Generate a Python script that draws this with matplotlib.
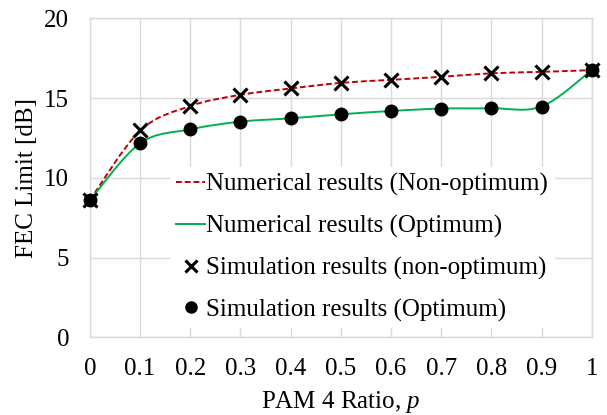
import matplotlib
matplotlib.use("Agg")
import matplotlib.pyplot as plt
from matplotlib.path import Path
from matplotlib.patches import PathPatch
from matplotlib.lines import Line2D

plt.rcParams['font.family'] = ['Liberation Serif', 'DejaVu Serif']
plt.rcParams['mathtext.fontset'] = 'custom'
plt.rcParams['mathtext.it'] = 'Liberation Serif:italic'
plt.rcParams['mathtext.rm'] = 'Liberation Serif'

# ---- data ----
p_ratio = [0, 0.1, 0.2, 0.3, 0.4, 0.5, 0.6, 0.7, 0.8, 0.9, 1.0]
x_ticks = [0, 0.1, 0.2, 0.3, 0.4, 0.5, 0.6, 0.7, 0.8, 0.9, 1]
x_tick_labels = ['0', '0.1', '0.2', '0.3', '0.4', '0.5', '0.6', '0.7', '0.8', '0.9', '1']
y_ticks = [0, 5, 10, 15, 20]

num_non_opt = [8.6, 12.95, 14.5, 15.2, 15.6, 15.95, 16.14, 16.33, 16.55, 16.64, 16.75]
num_opt = [8.6, 12.16, 13.04, 13.52, 13.73, 13.98, 14.19, 14.34, 14.36, 14.47, 16.75]
sim_non_opt = [8.6, 13.0, 14.5, 15.2, 15.6, 15.97, 16.14, 16.33, 16.56, 16.64, 16.75]
sim_opt = [8.6, 12.16, 13.04, 13.52, 13.73, 13.98, 14.19, 14.34, 14.36, 14.47, 16.75]

labels = ['Numerical results (Non-optimum)', 'Numerical results (Optimum)',
          'Simulation results (non-optimum)', 'Simulation results (Optimum)']

RED = '#C00000'
GREEN = '#00B050'
GRID = '#D9D9D9'
FS = 18
DASH = (0, (3, 1.5))


def smooth_path(xs, ys):
    """Excel-like smoothed line: cubic Bezier segments through the data points."""
    pts = list(zip(xs, ys))
    n = len(pts)
    verts = [pts[0]]
    codes = [Path.MOVETO]
    for i in range(n - 1):
        p0 = pts[i - 1] if i > 0 else pts[i]
        p1 = pts[i]
        p2 = pts[i + 1]
        p3 = pts[i + 2] if i + 2 < n else pts[i + 1]
        c1 = (p1[0] + (p2[0] - p0[0]) / 6.0, p1[1] + (p2[1] - p0[1]) / 6.0)
        c2 = (p2[0] - (p3[0] - p1[0]) / 6.0, p2[1] - (p3[1] - p1[1]) / 6.0)
        verts += [c1, c2, p2]
        codes += [Path.CURVE4] * 3
    return Path(verts, codes)


fig = plt.figure(figsize=(6.07, 4.15), dpi=100)
ax = fig.add_axes([0.148, 0.187, 0.827, 0.769])

ax.set_xlim(0, 1)
ax.set_ylim(0, 20)
ax.set_xticks(x_ticks)
ax.set_xticklabels(x_tick_labels)
ax.set_yticks(y_ticks)
ax.grid(True, color=GRID, linewidth=1.0, zorder=0)
ax.set_axisbelow(True)
for s in ax.spines.values():
    s.set_color(GRID)
    s.set_linewidth(1.0)
ax.tick_params(axis='y', length=0, labelsize=FS, pad=15)
ax.tick_params(axis='x', length=0, labelsize=FS, pad=15)

# numerical (smoothed) lines
ax.add_patch(PathPatch(smooth_path(p_ratio, num_non_opt), facecolor='none', edgecolor=RED,
                       linewidth=1.4, linestyle=DASH, zorder=3))
ax.add_patch(PathPatch(smooth_path(p_ratio, num_opt), facecolor='none', edgecolor=GREEN,
                       linewidth=1.4, zorder=3))

# simulation markers
ax.plot(p_ratio, sim_non_opt, linestyle='none', marker='x', markersize=10,
        markeredgewidth=2.2, color='black', zorder=4, clip_on=False)
ax.plot(p_ratio, sim_opt, linestyle='none', marker='o', markersize=9,
        color='black', zorder=4, clip_on=False)

ax.set_ylabel('FEC Limit [dB]', fontsize=FS, labelpad=4)
ax.set_xlabel('PAM 4 Ratio, $p$', fontsize=FS, labelpad=6)

handles = [
    Line2D([], [], color=RED, linewidth=1.4, linestyle=DASH),
    Line2D([], [], color=GREEN, linewidth=1.4),
    Line2D([], [], linestyle='none', marker='x', markersize=8, markeredgewidth=2.2, color='black'),
    Line2D([], [], linestyle='none', marker='o', markersize=8, color='black'),
]
leg = ax.legend(handles, labels, loc='lower left', bbox_to_anchor=(0.16, 0.03),
                fontsize=FS, frameon=True, fancybox=False, framealpha=1.0,
                edgecolor='none', facecolor='white', handlelength=1.15,
                handletextpad=0.05, labelspacing=0.75, borderpad=0.25,
                borderaxespad=0.0)
leg.set_zorder(5)

fig.savefig('out.png', dpi=100)
